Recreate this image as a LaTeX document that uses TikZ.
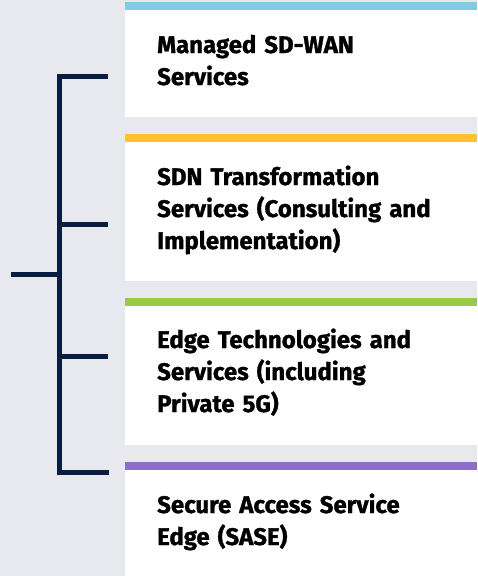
\documentclass[tikz,border=0pt]{standalone}
\usepackage{fontspec}
\setmainfont{Fira Sans}[BoldFeatures={FakeBold=1.2}]
\definecolor{pagegray}{RGB}{232,233,238}
\definecolor{barblue}{RGB}{127,204,227}
\definecolor{barorange}{RGB}{255,194,46}
\definecolor{bargreen}{RGB}{153,202,72}
\definecolor{barpurple}{RGB}{142,111,200}
\definecolor{navy}{RGB}{10,28,64}
\tikzset{
	itemtext/.style={anchor=base west,inner sep=0,text width=310pt,align=left,
		font=\bfseries\fontsize{24}{32}\selectfont,text=black},
	bracket/.style={navy,line width=5pt,line join=miter}
}
\begin{document}
\begin{tikzpicture}[x=1pt,y=-1pt]
	\useasboundingbox (0,0) rectangle (477,576);
	\fill[pagegray] (0,0) rectangle (477,576);		%background
	
	%white boxes
	\fill[white] (125,10) rectangle (477,117);
	\fill[white] (125,142) rectangle (477,281);
	\fill[white] (125,306) rectangle (477,445);
	\fill[white] (125,470) rectangle (477,576);
	
	%colour bars on top
	\fill[barblue]   (125,2) rectangle (477,10);
	\fill[barorange] (125,134) rectangle (477,142);
	\fill[bargreen]  (125,298) rectangle (477,306);
	\fill[barpurple] (125,462) rectangle (477,470);
	
	%texts
	\node[itemtext] (sdwan) at (157,53) {Managed SD-WAN\\Services};
	\node[itemtext] (sdn)   at (157,185) {SDN Transformation\\Services (Consulting and\\Implementation)};
	\node[itemtext] (edge)  at (157,348) {Edge Technologies and\\Services (including\\Private 5G)};
	\node[itemtext] (sase)  at (157,513) {Secure Access Service\\Edge (SASE)};
	
	%bracket
	\coordinate (b1) at (108,76);
	\coordinate (b2) at (108,224);
	\coordinate (b3) at (108,356);
	\coordinate (b4) at (109,472);
	\coordinate (root) at (11,274);
	\coordinate (spine) at (59,274);
	\draw[bracket] (b1) -| (59,472) -- (b4);
	\draw[bracket] (59,224) -- (b2);
	\draw[bracket] (59,356) -- (b3);
	\draw[bracket] (root) -- (spine);
\end{tikzpicture}
\end{document}
